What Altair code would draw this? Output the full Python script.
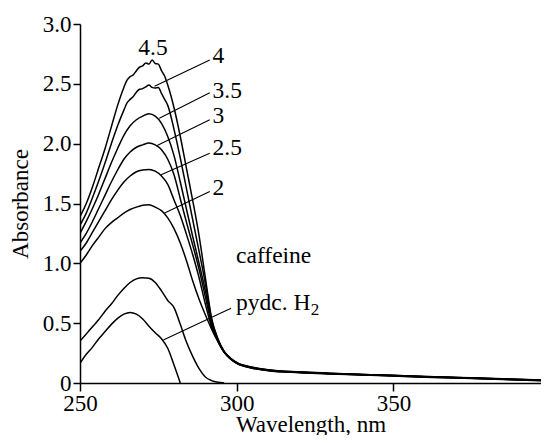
import altair as alt
import pandas as pd

# ---- data ----
WL_HUMP = [250, 252, 254, 256, 258, 260, 262, 264, 266, 268, 270, 272,
           274, 276, 278, 280, 282, 284, 286, 288, 290, 292, 294]
WL_TAIL = [296, 298, 300, 305, 310, 320, 330, 340, 350, 360, 370, 380, 390, 400]

S45 = [1.39, 1.50, 1.64, 1.80, 1.96, 2.14, 2.32, 2.47, 2.56, 2.61, 2.65, 2.665,
       2.67, 2.61, 2.49, 2.30, 2.06, 1.79, 1.52, 1.23, 0.88, 0.54, 0.37]
S4 = [1.32, 1.42, 1.55, 1.69, 1.84, 2.00, 2.15, 2.28, 2.37, 2.43, 2.46, 2.49,
      2.465, 2.42, 2.32, 2.12, 1.88, 1.62, 1.36, 1.10, 0.83, 0.53, 0.365]
S35 = [1.25, 1.35, 1.46, 1.58, 1.71, 1.84, 1.96, 2.07, 2.15, 2.20, 2.23, 2.25,
       2.23, 2.17, 2.06, 1.90, 1.68, 1.45, 1.22, 1.00, 0.77, 0.51, 0.36]
S3 = [1.17, 1.25, 1.35, 1.46, 1.57, 1.68, 1.78, 1.87, 1.93, 1.97, 1.99, 2.005,
      1.99, 1.95, 1.87, 1.74, 1.54, 1.34, 1.15, 0.95, 0.72, 0.49, 0.355]
S25 = [1.10, 1.17, 1.26, 1.35, 1.44, 1.53, 1.61, 1.68, 1.73, 1.765, 1.78, 1.785,
       1.77, 1.73, 1.66, 1.53, 1.40, 1.24, 1.07, 0.88, 0.66, 0.47, 0.35]
S2 = [1.00, 1.07, 1.15, 1.22, 1.29, 1.34, 1.38, 1.42, 1.45, 1.47, 1.485, 1.49,
      1.47, 1.44, 1.38, 1.29, 1.17, 1.02, 0.85, 0.70, 0.57, 0.45, 0.345]

# extra noisy points near the tops of the two highest spectra
WL_PEAK = [265, 267, 269, 271, 273, 275, 277]
P45 = [2.53, 2.575, 2.64, 2.675, 2.70, 2.665, 2.565]
P4 = [2.34, 2.395, 2.455, 2.475, 2.47, 2.47, 2.37]

T45 = [0.264, 0.209, 0.172, 0.132, 0.111, 0.093, 0.082, 0.072, 0.064, 0.055, 0.047, 0.039, 0.031, 0.023]
T4 = [0.262, 0.207, 0.170, 0.130, 0.109, 0.091, 0.080, 0.071, 0.063, 0.054, 0.046, 0.038, 0.030, 0.022]
T35 = [0.261, 0.206, 0.169, 0.129, 0.108, 0.090, 0.079, 0.070, 0.062, 0.053, 0.045, 0.037, 0.029, 0.021]
T3 = [0.259, 0.204, 0.167, 0.127, 0.106, 0.089, 0.078, 0.069, 0.061, 0.052, 0.044, 0.036, 0.028, 0.020]
T25 = [0.258, 0.203, 0.166, 0.126, 0.105, 0.088, 0.077, 0.068, 0.060, 0.051, 0.043, 0.035, 0.027, 0.019]
T2 = [0.256, 0.201, 0.164, 0.124, 0.103, 0.086, 0.075, 0.066, 0.058, 0.049, 0.041, 0.033, 0.025, 0.017]

WL_CAF = [250, 252, 254, 256, 258, 260, 262, 264, 266, 268, 270, 272,
          274, 276, 278, 280, 282, 284, 286, 288, 290, 292, 294, 296]
CAF = [0.35, 0.41, 0.47, 0.53, 0.60, 0.66, 0.73, 0.79, 0.84, 0.87, 0.88, 0.875,
       0.84, 0.77, 0.69, 0.63, 0.49, 0.34, 0.22, 0.12, 0.05, 0.02, 0.006, 0.0]

WL_PYDC = [250, 252, 254, 256, 258, 260, 262, 264, 266, 268, 270, 272,
           274, 276, 278, 280, 282]
PYDC = [0.165, 0.24, 0.30, 0.37, 0.43, 0.49, 0.54, 0.575, 0.59, 0.575, 0.535, 0.475,
        0.42, 0.37, 0.29, 0.15, 0.0]

# labels (text, x nm, absorbance baseline)
LAB_TEXT = ["4", "3.5", "3", "2.5", "2", "caffeine", "pydc. H"]
LAB_X = [292.3, 292.3, 292.3, 292.3, 292.3, 299.8, 299.8]
LAB_Y = [2.676, 2.383, 2.174, 1.906, 1.572, 1.0, 0.61]
TOP_TEXT = ["4.5"]
TOP_X = [273.3]
TOP_Y = [2.74]
SUB_TEXT = ["2"]
SUB_X = [323.6]
SUB_Y = [0.565]

# leader lines
LEAD_X = [291.4, 291.4, 291.4, 291.4, 291.4, 298.2]
LEAD_Y = [2.70, 2.425, 2.199, 1.92, 1.60, 0.625]
LEAD_X2 = [273.8, 275.3, 274.3, 275.9, 277.0, 276.6]
LEAD_Y2 = [2.48, 2.213, 1.98, 1.74, 1.42, 0.36]

# ---- build table ----
rows = []
for name, hump, tail in [("4.5", S45, T45), ("4", S4, T4), ("3.5", S35, T35),
                         ("3", S3, T3), ("2.5", S25, T25), ("2", S2, T2)]:
    for w, a in zip(WL_HUMP + WL_TAIL, hump + tail):
        rows.append({"series": name, "wl": w, "a": a})
for w, a in zip(WL_PEAK, P45):
    rows.append({"series": "4.5", "wl": w, "a": a})
for w, a in zip(WL_PEAK, P4):
    rows.append({"series": "4", "wl": w, "a": a})
for w, a in zip(WL_CAF, CAF):
    rows.append({"series": "caffeine", "wl": w, "a": a})
for w, a in zip(WL_PYDC, PYDC):
    rows.append({"series": "pydc", "wl": w, "a": a})
df = pd.DataFrame(rows).sort_values(["series", "wl"])

labels = pd.DataFrame({"t": LAB_TEXT, "x": LAB_X, "y": LAB_Y})
top = pd.DataFrame({"t": TOP_TEXT, "x": TOP_X, "y": TOP_Y})
sub = pd.DataFrame({"t": SUB_TEXT, "x": SUB_X, "y": SUB_Y})
leads = pd.DataFrame({"x": LEAD_X, "y": LEAD_Y, "x2": LEAD_X2, "y2": LEAD_Y2})

FONT = "'Liberation Serif', 'Times New Roman', Times, serif"
XMAX = 397.1
xscale = alt.Scale(domain=[250, XMAX], nice=False, zero=False)
yscale = alt.Scale(domain=[0, 3.0], nice=False)

x_axis = alt.Axis(values=[250, 300, 350],
                  title="Wavelength, nm", grid=False, tickSize=8, labelPadding=1,
                  titleY=48, titleBaseline="alphabetic")
y_axis = alt.Axis(values=[0, 0.5, 1.0, 1.5, 2.0, 2.5, 3.0],
                  labelExpr="datum.value == 0 ? '0' : format(datum.value, '.1f')",
                  title="Absorbance", grid=False, tickSize=7, labelPadding=2,
                  titlePadding=10)

lines = alt.Chart(df).mark_line(color="black", strokeWidth=1.5, interpolate="monotone",
                                clip=True).encode(
    x=alt.X("wl:Q", scale=xscale, axis=x_axis),
    y=alt.Y("a:Q", scale=yscale, axis=y_axis),
    detail="series:N",
    order="wl:Q",
)

rules = alt.Chart(leads).mark_rule(color="black", strokeWidth=1.1).encode(
    x=alt.X("x:Q", scale=xscale), y=alt.Y("y:Q", scale=yscale),
    x2="x2:Q", y2="y2:Q",
)

text_left = alt.Chart(labels).mark_text(font=FONT, fontSize=23.5, baseline="alphabetic",
                                        align="left", color="black").encode(
    x=alt.X("x:Q", scale=xscale), y=alt.Y("y:Q", scale=yscale), text="t:N",
)

text_center = alt.Chart(top).mark_text(font=FONT, fontSize=23.5, baseline="alphabetic",
                                       align="center", color="black").encode(
    x=alt.X("x:Q", scale=xscale), y=alt.Y("y:Q", scale=yscale), text="t:N",
)

sub_text = alt.Chart(sub).mark_text(font=FONT, fontSize=17, baseline="alphabetic",
                                    align="left", color="black").encode(
    x=alt.X("x:Q", scale=xscale), y=alt.Y("y:Q", scale=yscale), text="t:N",
)

chart = alt.layer(lines, rules, text_left, text_center, sub_text).properties(
    width=461, height=359,
    autosize=alt.AutoSizeParams(type="none"),
    padding={"left": 72, "top": 16, "right": 0, "bottom": 52},
    background="white",
).configure_view(stroke=None).configure_axis(
    labelFont=FONT, titleFont=FONT, labelFontSize=23, titleFontSize=23,
    titleFontWeight="normal", labelColor="black", titleColor="black",
    domainColor="black", tickColor="black", domainWidth=1.5, tickWidth=1.5,
    labelFlush=False, labelOverlap=False,
)

chart.save("out.html", embed_options={"renderer": "svg", "actions": False})
